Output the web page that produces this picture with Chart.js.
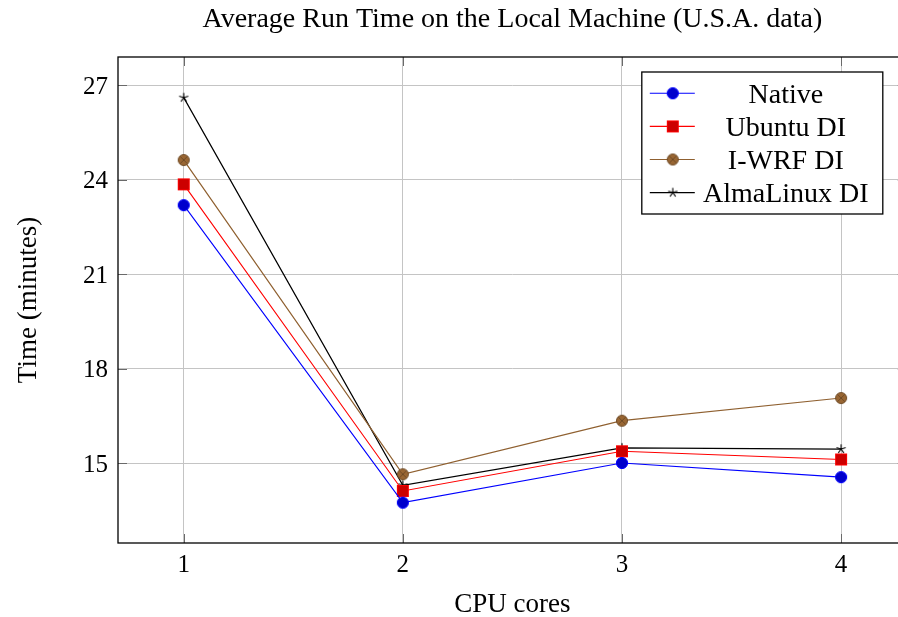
<!DOCTYPE html>
<html>
<head>
<meta charset="utf-8">
<script src="https://cdn.jsdelivr.net/npm/chart.js@4/dist/chart.umd.min.js"></script>
<style>
  html, body { margin: 0; padding: 0; background: #fff; overflow: hidden; }
  canvas { display: block; }
</style>
</head>
<body>
<canvas id="chart" width="914" height="617"></canvas>
<script>
// Average run time (minutes) per number of CPU cores
const cpuCores = [1, 2, 3, 4];
const nativeTimes = [23.19, 13.75, 15.01, 14.56];
const ubuntuTimes = [23.85, 14.12, 15.38, 15.12];
const iwrfTimes = [24.62, 14.65, 16.35, 17.07];
const almaTimes = [26.60, 14.30, 15.49, 15.45];
const seriesLabels = ['Native', 'Ubuntu DI', 'I-WRF DI', 'AlmaLinux DI'];
const xTickValues = [1, 2, 3, 4];
const yTickValues = [15, 18, 21, 24, 27];

const FONT = "'Liberation Serif', 'Times New Roman', serif";

// Small canvases used as point markers (filled circle, square, circled cross, asterisk)
function markerCanvas(size, draw) {
  const c = document.createElement('canvas');
  c.width = size; c.height = size;
  const g = c.getContext('2d');
  draw(g, size / 2);
  return c;
}
const circleMark = markerCanvas(14, (g, m) => {
  g.beginPath(); g.arc(m, m, 5.6, 0, Math.PI * 2);
  g.fillStyle = '#0000cc'; g.fill();
  g.lineWidth = 1; g.strokeStyle = '#0000ff'; g.stroke();
});
const squareMark = markerCanvas(14, (g, m) => {
  g.fillStyle = '#cc0000'; g.fillRect(m - 5.5, m - 5.5, 11, 11);
  g.lineWidth = 1; g.strokeStyle = '#ff0000'; g.strokeRect(m - 5.5, m - 5.5, 11, 11);
});
const otimesMark = markerCanvas(14, (g, m) => {
  const r = 5.5, d = r * Math.SQRT1_2;
  g.beginPath(); g.arc(m, m, r, 0, Math.PI * 2);
  g.fillStyle = '#996633'; g.fill();
  g.lineWidth = 1; g.strokeStyle = '#6e4a25'; g.stroke();
  g.beginPath();
  g.moveTo(m - d, m - d); g.lineTo(m + d, m + d);
  g.moveTo(m - d, m + d); g.lineTo(m + d, m - d);
  g.stroke();
});
const starMark = markerCanvas(12, (g, m) => {
  g.lineWidth = 1.1; g.strokeStyle = '#000';
  g.beginPath();
  for (let k = 0; k < 5; k++) {
    const a = -Math.PI / 2 + k * 2 * Math.PI / 5;
    g.moveTo(m, m); g.lineTo(m + 4.8 * Math.cos(a), m + 4.8 * Math.sin(a));
  }
  g.stroke();
});

function toPoints(values) {
  return cpuCores.map((c, i) => ({ x: c, y: values[i] }));
}

function series(label, values, color, marker, width) {
  return {
    label, data: toPoints(values),
    borderColor: color, backgroundColor: color,
    borderWidth: width, tension: 0,
    pointStyle: marker, pointRadius: 6, pointHoverRadius: 6
  };
}

// Full frame around the plot with inward tick marks on every side
const axisFrame = {
  id: 'axisFrame',
  beforeDatasetsDraw(chart) {
    const { ctx, chartArea: a, scales: { x, y } } = chart;
    const len = 9;
    ctx.save();
    ctx.strokeStyle = '#6a6a6a';
    ctx.lineWidth = 1;
    ctx.beginPath();
    xTickValues.forEach(v => {
      const px = Math.round(x.getPixelForValue(v)) + 0.5;
      ctx.moveTo(px, a.bottom); ctx.lineTo(px, a.bottom - len);
      ctx.moveTo(px, a.top); ctx.lineTo(px, a.top + len);
    });
    yTickValues.forEach(v => {
      const py = Math.round(y.getPixelForValue(v)) + 0.5;
      ctx.moveTo(a.left, py); ctx.lineTo(a.left + len, py);
      ctx.moveTo(a.right, py); ctx.lineTo(a.right - len, py);
    });
    ctx.stroke();
    ctx.strokeStyle = '#000';
    ctx.lineWidth = 1.3;
    ctx.strokeRect(a.left, a.top, a.right - a.left, a.bottom - a.top);
    ctx.restore();
  }
};

// Boxed legend in the upper right corner of the plot
const cornerLegend = {
  id: 'cornerLegend',
  afterDraw(chart) {
    const { ctx, chartArea: a } = chart;
    const w = 241, h = 142;
    const right = a.right - 24, top = a.top + 15, left = right - w;
    const rowH = 33.1, firstRow = top + 21.3;
    ctx.save();
    ctx.fillStyle = '#fff';
    ctx.fillRect(left, top, w, h);
    ctx.strokeStyle = '#000';
    ctx.lineWidth = 1.3;
    ctx.strokeRect(left, top, w, h);
    chart.data.datasets.forEach((ds, i) => {
      const cy = firstRow + i * rowH;
      ctx.strokeStyle = ds.borderColor;
      ctx.lineWidth = ds.borderWidth;
      ctx.beginPath();
      ctx.moveTo(left + 8, cy); ctx.lineTo(left + 53, cy);
      ctx.stroke();
      const m = ds.pointStyle;
      ctx.drawImage(m, left + 31 - m.width / 2, cy - m.height / 2);
      ctx.fillStyle = '#000';
      ctx.font = '28px ' + FONT;
      ctx.textAlign = 'center';
      ctx.textBaseline = 'middle';
      ctx.fillText(ds.label, left + 144, cy + 2);
    });
    ctx.restore();
  }
};

new Chart(document.getElementById('chart'), {
  type: 'line',
  data: {
    datasets: [
      series(seriesLabels[0], nativeTimes, '#0000ff', circleMark, 1.1),
      series(seriesLabels[1], ubuntuTimes, '#ff0000', squareMark, 1.1),
      series(seriesLabels[2], iwrfTimes, '#8f6030', otimesMark, 1.2),
      series(seriesLabels[3], almaTimes, '#000000', starMark, 1.2)
    ]
  },
  options: {
    responsive: false,
    animation: false,
    devicePixelRatio: 1,
    layout: { padding: { left: 0, top: 0, right: 2, bottom: 0 } },
    plugins: {
      legend: { display: false },
      tooltip: { enabled: false },
      title: {
        display: true,
        fullSize: false,
        text: 'Average Run Time on the Local Machine (U.S.A. data)',
        color: '#000',
        font: { family: FONT, size: 28, weight: 'normal', lineHeight: 1.2 },
        padding: { top: 3, bottom: 20.4 }
      }
    },
    scales: {
      x: {
        type: 'linear',
        min: 0.7, max: 4.3,
        afterBuildTicks: axis => { axis.ticks = xTickValues.map(v => ({ value: v })); },
        afterFit: axis => { axis.height = 74; },
        grid: { color: '#c4c4c4', lineWidth: 1, drawTicks: false },
        border: { display: false },
        ticks: {
          color: '#000', padding: 7, maxRotation: 0,
          font: { family: FONT, size: 25 },
          callback: v => String(v)
        },
        title: {
          display: true, text: 'CPU cores', color: '#000',
          font: { family: FONT, size: 27, lineHeight: 1 },
          padding: { top: 0, bottom: -1 }
        }
      },
      y: {
        type: 'linear',
        min: 12.47, max: 27.89,
        afterBuildTicks: axis => { axis.ticks = yTickValues.map(v => ({ value: v })); },
        afterFit: axis => { axis.width = 118; },
        grid: { color: '#c4c4c4', lineWidth: 1, drawTicks: false },
        border: { display: false },
        ticks: {
          color: '#000', padding: 10, labelOffset: 2,
          font: { family: FONT, size: 25 },
          callback: v => String(v)
        },
        title: {
          display: true, text: 'Time (minutes)', color: '#000',
          font: { family: FONT, size: 27, lineHeight: 1.2 },
          padding: { top: 13, bottom: 0 }
        }
      }
    }
  },
  plugins: [axisFrame, cornerLegend]
});
</script>
</body>
</html>
